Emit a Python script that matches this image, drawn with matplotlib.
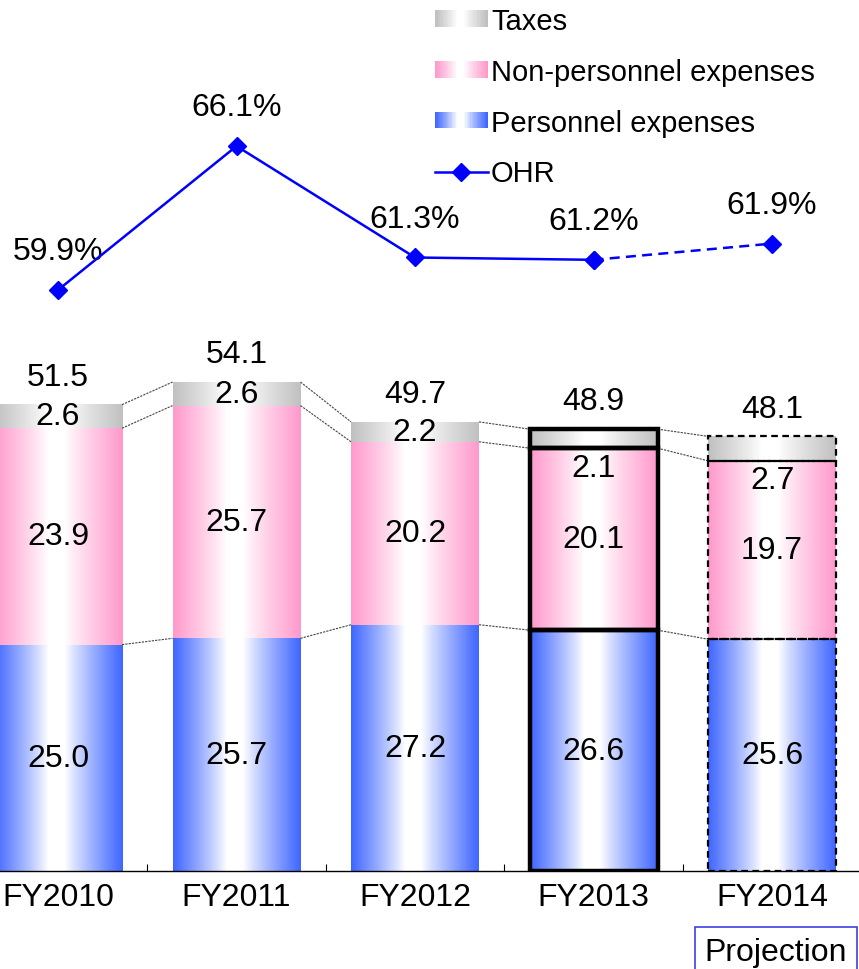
import numpy as np
import matplotlib
matplotlib.use('Agg')
import matplotlib.pyplot as plt
import matplotlib.patches as patches
from matplotlib.legend_handler import HandlerBase
from matplotlib.lines import Line2D

plt.rcParams['font.family'] = ['Liberation Sans', 'DejaVu Sans']

# data
years = ['FY2010', 'FY2011', 'FY2012', 'FY2013', 'FY2014']
personnel = [25.0, 25.7, 27.2, 26.6, 25.6]
non_personnel = [23.9, 25.7, 20.2, 20.1, 19.7]
taxes = [2.6, 2.6, 2.2, 2.1, 2.7]
totals = [51.5, 54.1, 49.7, 48.9, 48.1]
ohr = [59.9, 66.1, 61.3, 61.2, 61.9]

blue = '#3f66ff'
pink = '#ff99cc'
gray = '#c0c0c0'
fs = 23


def gradient(color, n=200):
    c = np.array(matplotlib.colors.to_rgb(color))
    t = np.linspace(0, 1, n)
    w = np.where(t < 0.42, (0.42 - t) / 0.42, np.where(t > 0.55, (t - 0.55) / 0.45, 0))
    w = np.clip(w, 0, 1) ** 0.9
    rgb = (1 - w)[:, None] * 1.0 + w[:, None] * c[None, :]
    return rgb[None, :, :]


class GradientHandler(HandlerBase):
    def __init__(self, color):
        super().__init__()
        self.color = color

    def create_artists(self, legend, orig_handle, xdescent, ydescent, width, height, fontsize, trans):
        g = gradient(self.color, 40)[0]
        n = len(g)
        arts = []
        for i in range(n):
            r = patches.Rectangle((-xdescent + width * i / n, -ydescent), width / n * 1.05, height,
                                  facecolor=g[i], edgecolor='none', transform=trans)
            arts.append(r)
        return arts


fig = plt.figure(figsize=(8.59, 9.70), dpi=100)
ax = fig.add_axes([0, 0.101, 1, 0.899])

x = np.arange(len(years))
width = 0.717
b1 = np.array(personnel)
b2 = b1 + np.array(non_personnel)
b3 = b2 + np.array(taxes)

segments = [(np.zeros(5), b1, blue), (b1, b2, pink), (b2, b3, gray)]
for i in range(len(years)):
    for lo, hi, col in segments:
        ax.imshow(gradient(col), extent=(x[i] - width / 2, x[i] + width / 2, lo[i], hi[i]),
                  aspect='auto', zorder=1, interpolation='bilinear')
        if i == 3:
            ax.add_patch(patches.Rectangle((x[i] - width / 2, lo[i]), width, hi[i] - lo[i],
                                           fill=False, edgecolor='black', linewidth=3.2, zorder=3))
        elif i == 4:
            ax.add_patch(patches.Rectangle((x[i] - width / 2, lo[i]), width, hi[i] - lo[i],
                                           fill=False, edgecolor='black', linewidth=1.6,
                                           linestyle=(0, (3, 2)), zorder=3))

# connector lines
for i in range(len(years) - 1):
    for lev in (b1, b2, b3):
        ax.plot([x[i] + width / 2, x[i + 1] - width / 2], [lev[i], lev[i + 1]],
                color='#444444', linewidth=0.8, linestyle=(0, (2, 1)), zorder=2)

# segment labels
for i in range(len(years)):
    ax.text(x[i], b1[i] / 2, f'{personnel[i]:.1f}', ha='center', va='center', fontsize=fs, zorder=4)
    ax.text(x[i], (b1[i] + b2[i]) / 2, f'{non_personnel[i]:.1f}', ha='center', va='center', fontsize=fs, zorder=4)
    if i < 3:
        ax.text(x[i], (b2[i] + b3[i]) / 2, f'{taxes[i]:.1f}', ha='center', va='center', fontsize=fs, zorder=4)
    else:
        ax.annotate(f'{taxes[i]:.1f}', (x[i], b2[i]), xytext=(0, -14), textcoords='offset points',
                    ha='center', va='center', fontsize=fs, zorder=4)
    ax.annotate(f'{totals[i]:.1f}', (x[i], b3[i]), xytext=(0, 20), textcoords='offset points',
                ha='center', va='center', fontsize=fs)

ax.set_xlim(-0.325, 4.487)
ax.set_ylim(0, 96.3)
ax.set_xticks(x)
ax.set_xticklabels(years, fontsize=fs)
ax.set_xticks(x[:-1] + 0.5, minor=True)
ax.tick_params(axis='x', which='major', length=0, pad=8)
ax.tick_params(axis='x', which='minor', direction='in', length=5, width=0.8)
ax.set_yticks([])
for s in ('top', 'left', 'right'):
    ax.spines[s].set_visible(False)
ax.spines['bottom'].set_linewidth(1.0)

# OHR line on secondary axis
ax2 = ax.twinx()
ax2.set_ylim(34.86, 72.44)
ax2.plot(x[:4], ohr[:4], color='#0000ff', linewidth=1.8, marker='D', markersize=9, zorder=5)
ax2.plot(x[3:], ohr[3:], color='#0000ff', linewidth=1.8, linestyle=(0, (4, 2.5)),
         marker='D', markersize=9, zorder=5)
for i in range(len(years)):
    ax2.annotate(f'{ohr[i]:.1f}%', (x[i], ohr[i]), xytext=(0, 28), textcoords='offset points',
                 ha='center', va='center', fontsize=fs)
ax2.set_yticks([])
for s in ax2.spines.values():
    s.set_visible(False)
ax2.set_xlim(-0.325, 4.487)

# legend
h_tax = patches.Patch(label='Taxes')
h_non = patches.Patch(label='Non-personnel expenses')
h_per = patches.Patch(label='Personnel expenses')
h_ohr = Line2D([], [], color='#0000ff', linewidth=1.8, marker='D', markersize=9, label='OHR')
fig.legend(handles=[h_tax, h_non, h_per, h_ohr],
           handler_map={h_tax: GradientHandler(gray), h_non: GradientHandler(pink),
                        h_per: GradientHandler(blue)},
           loc='upper left', bbox_to_anchor=(435 / 859, 1 - 8 / 970), frameon=False,
           fontsize=21, handlelength=1.8, handleheight=0.5, handletextpad=0.12,
           labelspacing=0.78, borderaxespad=0, borderpad=0)

fig.text(776 / 859, 1 - 953 / 970, 'Projection', ha='center', va='center', fontsize=fs,
         bbox=dict(boxstyle='square,pad=0.3', facecolor='white', edgecolor='#4040e0', linewidth=1.2))

fig.savefig('out.png', dpi=100)
